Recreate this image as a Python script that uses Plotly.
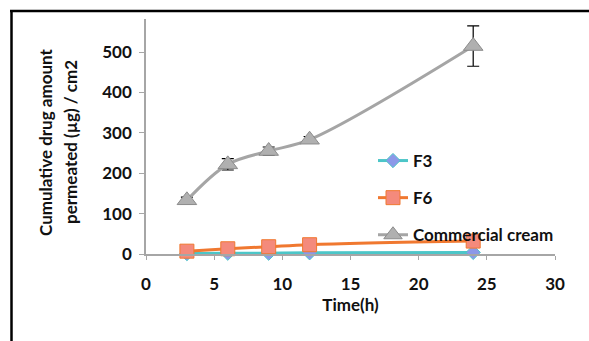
import plotly.graph_objects as go

time_h = [3, 6, 9, 12, 24]
f3 = [1, 2, 2, 3, 4]
f6 = [7, 13, 18, 23, 32]
cream = [133, 222, 255, 283, 515]
cream_err = [8, 14, 10, 8, 50]

W, H = 589, 341
L, R, T, B = 146, 34, 19, 87
pw, ph = W - L - R, H - T - B

def px_to_paper_x(px):
    return (px - L) / pw

def px_to_paper_y(py):
    return (H - B - py) / ph

FONT = "Lato"
FS = 17
TXT = dict(family=FONT, size=FS, color="#111111", weight="bold")

fig = go.Figure()
fig.add_trace(go.Scatter(
    x=time_h, y=f3, name="F3", mode="lines+markers", legendgroup="a",
    line=dict(color="#4CC6C8", width=3, shape="spline"),
    marker=dict(symbol="diamond", size=11, color="#8C98E8", line=dict(color="#4CC6C8", width=1)),
    cliponaxis=False,
))
fig.add_trace(go.Scatter(
    x=time_h, y=f6, name="F6", mode="lines+markers", legendgroup="b",
    line=dict(color="#F07830", width=3, shape="spline"),
    marker=dict(symbol="square", size=14, color="#F48A7C", line=dict(color="#F07830", width=1)),
    cliponaxis=False,
))
fig.add_trace(go.Scatter(
    x=time_h, y=cream, name="Commercial cream", mode="lines+markers", legendgroup="c",
    line=dict(color="#A5A5A5", width=3, shape="spline"),
    marker=dict(symbol="triangle-up", size=17, color="#B0B0B0", line=dict(color="#8C8C8C", width=1)),
    error_y=dict(type="data", array=cream_err, visible=True, color="#000000", thickness=1.2, width=6),
    cliponaxis=False,
))

fig.update_layout(
    width=W, height=H,
    margin=dict(l=L, r=R, t=T, b=B),
    paper_bgcolor="white", plot_bgcolor="white",
    showlegend=True,
    legend=dict(
        x=px_to_paper_x(373), y=px_to_paper_y(143), xanchor="left", yanchor="top",
        font=TXT, bgcolor="rgba(0,0,0,0)", tracegroupgap=12, itemwidth=30,
    ),
    xaxis=dict(
        range=[0, 30], tick0=0, dtick=5, showgrid=False, zeroline=False,
        showline=True, linecolor="#A6A6A6", linewidth=1.5,
        ticks="outside", ticklen=4, tickcolor="#A6A6A6",
        tickfont=TXT, ticklabelstandoff=10,
        title=dict(text="Time(h)", font=TXT, standoff=0),
    ),
    yaxis=dict(
        range=[0, 582], tick0=0, dtick=100, showgrid=False, zeroline=False,
        showline=True, linecolor="#A6A6A6", linewidth=1.5,
        ticks="outside", ticklen=5, tickcolor="#A6A6A6",
        tickfont=TXT, ticklabelstandoff=4,
        title=dict(text=""),
    ),
    annotations=[
        dict(text="Cumulative drug amount", xref="paper", yref="paper",
             x=px_to_paper_x(45), y=px_to_paper_y(142),
             xanchor="center", yanchor="middle", showarrow=False, textangle=-90, font=TXT),
        dict(text="permeated (µg) / cm2", xref="paper", yref="paper",
             x=px_to_paper_x(70), y=px_to_paper_y(142),
             xanchor="center", yanchor="middle", showarrow=False, textangle=-90, font=TXT),
    ],
    shapes=[
        dict(type="line", xref="paper", yref="paper",
             x0=px_to_paper_x(11.5), x1=px_to_paper_x(11.5),
             y0=px_to_paper_y(10), y1=px_to_paper_y(345),
             line=dict(color="black", width=2.5)),
        dict(type="line", xref="paper", yref="paper",
             x0=px_to_paper_x(10), x1=px_to_paper_x(595),
             y0=px_to_paper_y(11), y1=px_to_paper_y(11),
             line=dict(color="black", width=2.5)),
    ],
)

fig.write_html("out.html", config={"displayModeBar": False},
               post_script="document.body.style.margin='0';")
